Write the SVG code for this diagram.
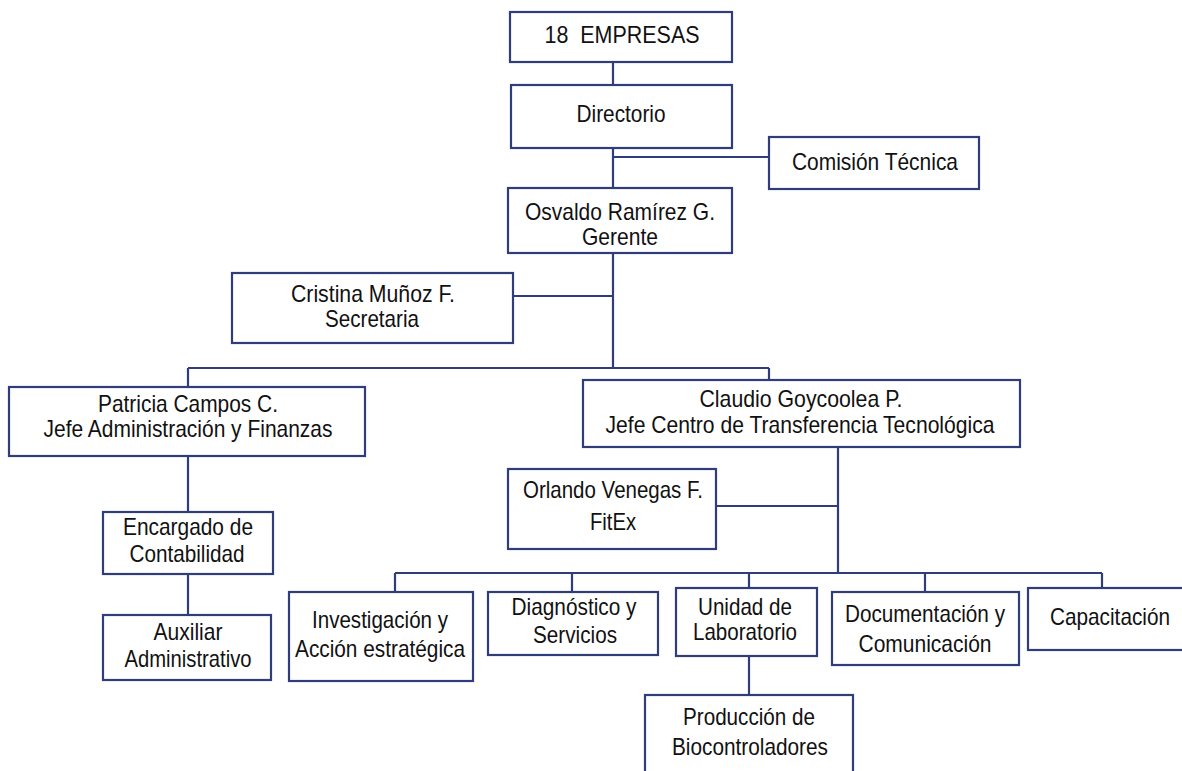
<svg xmlns="http://www.w3.org/2000/svg" width="1182" height="771" viewBox="0 0 1182 771">
<style>
.box{fill:#fff;stroke:#2f3e7a;stroke-width:2.2}
.ln{fill:none;stroke:#2f3e7a;stroke-width:2.2}
text{font-family:"Liberation Sans",Arial,sans-serif;font-size:24px;fill:#111;text-anchor:middle}
</style>
<rect width="1182" height="771" fill="#fff"/>
<g id="connectors">
<path class="ln" d="M613 62V85M613 148V188M613 157H769M613 253V368M513 296H613M188 368H769M188 368V387M769 368V380M188 456V512M188 574V615M838 447V573M716 506H838M395 573H1102M395 573V592M572 573V592M749 573V588M925 573V592M1102 573V588M749 656V695"/>
</g>
<g id="n1"><rect class="box" x="510" y="12" width="222" height="50"/><text x="622" y="43" textLength="155" lengthAdjust="spacingAndGlyphs" xml:space="preserve">18  EMPRESAS</text></g>
<g id="n2"><rect class="box" x="511" y="85" width="221" height="63"/><text x="621" y="122" textLength="89" lengthAdjust="spacingAndGlyphs">Directorio</text></g>
<g id="n3"><rect class="box" x="769" y="137" width="210" height="52"/><text x="875" y="170" textLength="166" lengthAdjust="spacingAndGlyphs">Comisión Técnica</text></g>
<g id="n4"><rect class="box" x="508" y="188" width="224" height="65"/><text x="620" y="220" textLength="190" lengthAdjust="spacingAndGlyphs">Osvaldo Ramírez G.</text><text x="620" y="245" textLength="76" lengthAdjust="spacingAndGlyphs">Gerente</text></g>
<g id="n5"><rect class="box" x="232" y="273" width="281" height="70"/><text x="373" y="302" textLength="164" lengthAdjust="spacingAndGlyphs">Cristina Muñoz F.</text><text x="372" y="327" textLength="94" lengthAdjust="spacingAndGlyphs">Secretaria</text></g>
<g id="n6"><rect class="box" x="9" y="387" width="356" height="69"/><text x="188" y="412" textLength="180" lengthAdjust="spacingAndGlyphs">Patricia Campos C.</text><text x="188" y="437" textLength="289" lengthAdjust="spacingAndGlyphs">Jefe Administración y Finanzas</text></g>
<g id="n7"><rect class="box" x="583" y="380" width="437" height="67"/><text x="801" y="407" textLength="203" lengthAdjust="spacingAndGlyphs">Claudio Goycoolea P.</text><text x="800" y="433" textLength="389" lengthAdjust="spacingAndGlyphs">Jefe Centro de Transferencia Tecnológica</text></g>
<g id="n8"><rect class="box" x="508" y="469" width="208" height="80"/><text x="613" y="498" textLength="180" lengthAdjust="spacingAndGlyphs">Orlando Venegas F.</text><text x="613" y="530" textLength="46" lengthAdjust="spacingAndGlyphs">FitEx</text></g>
<g id="n9"><rect class="box" x="103" y="512" width="170" height="62"/><text x="188" y="535" textLength="130" lengthAdjust="spacingAndGlyphs">Encargado de</text><text x="187" y="562" textLength="115" lengthAdjust="spacingAndGlyphs">Contabilidad</text></g>
<g id="n10"><rect class="box" x="103" y="615" width="168" height="65"/><text x="188" y="640" textLength="69" lengthAdjust="spacingAndGlyphs">Auxiliar</text><text x="188" y="667" textLength="127" lengthAdjust="spacingAndGlyphs">Administrativo</text></g>
<g id="n11"><rect class="box" x="289" y="592" width="184" height="89"/><text x="380" y="628" textLength="136" lengthAdjust="spacingAndGlyphs">Investigación y</text><text x="380" y="657" textLength="170" lengthAdjust="spacingAndGlyphs">Acción estratégica</text></g>
<g id="n12"><rect class="box" x="488" y="592" width="170" height="63"/><text x="574" y="615" textLength="125" lengthAdjust="spacingAndGlyphs">Diagnóstico y</text><text x="575" y="643" textLength="84" lengthAdjust="spacingAndGlyphs">Servicios</text></g>
<g id="n13"><rect class="box" x="676" y="588" width="141" height="68"/><text x="745" y="615" textLength="94" lengthAdjust="spacingAndGlyphs">Unidad de</text><text x="745" y="640" textLength="104" lengthAdjust="spacingAndGlyphs">Laboratorio</text></g>
<g id="n14"><rect class="box" x="832" y="592" width="187" height="73"/><text x="925" y="622" textLength="160" lengthAdjust="spacingAndGlyphs">Documentación y</text><text x="925" y="652" textLength="133" lengthAdjust="spacingAndGlyphs">Comunicación</text></g>
<g id="n15"><rect class="box" x="1028" y="588" width="160" height="62"/><text x="1110" y="625" textLength="120" lengthAdjust="spacingAndGlyphs">Capacitación</text></g>
<g id="n16"><rect class="box" x="645" y="695" width="208" height="90"/><text x="749" y="725" textLength="132" lengthAdjust="spacingAndGlyphs">Producción de</text><text x="750" y="755" textLength="156" lengthAdjust="spacingAndGlyphs">Biocontroladores</text></g>
</svg>
